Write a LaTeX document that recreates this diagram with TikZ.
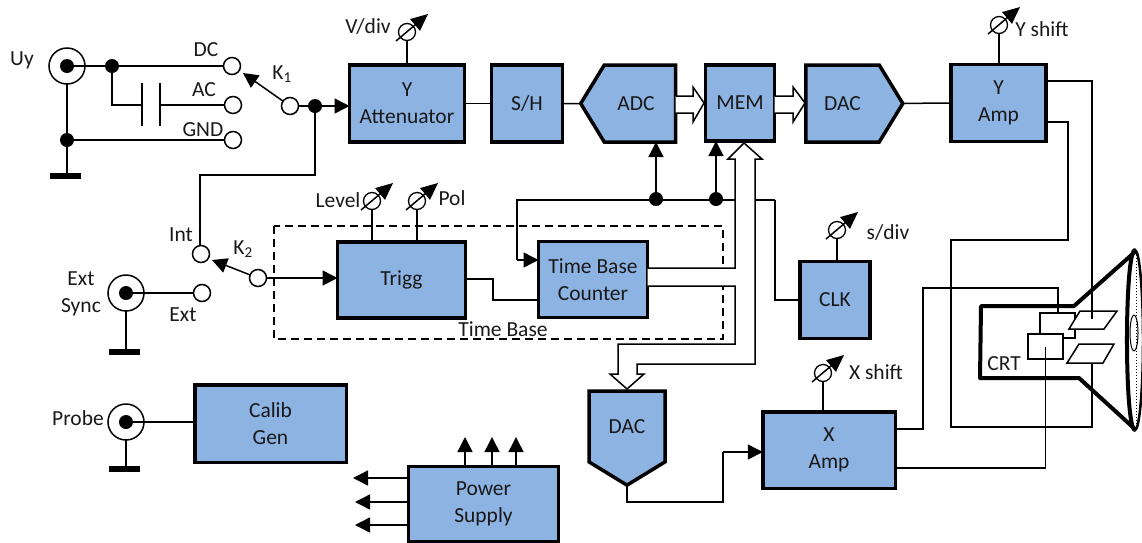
\documentclass[tikz,border=0pt]{standalone}
\usepackage{fontspec}
\setmainfont{Carlito}
\usetikzlibrary{arrows.meta,shapes.symbols}
\definecolor{blockblue}{RGB}{141,179,226}

\tikzset{
  caption/.style={font=\fontsize{21.5}{27}\selectfont,align=center,text=black!90},
  blockbox/.style={caption,draw,line width=3.5pt,fill=blockblue,outer sep=0pt,inner sep=0pt},
  signalbox/.style={blockbox,signal,signal pointer angle=117},
  terminal/.style={draw,circle,fill=white,line width=1.5pt,minimum size=17pt,inner sep=0pt,outer sep=0pt},
  junction/.style={circle,fill=black,minimum size=14pt,inner sep=0pt,outer sep=0pt},
  coax/.style={draw,circle,fill=white,line width=1.5pt,minimum size=36pt,inner sep=0pt,outer sep=0pt},
  earthbar/.style={fill=black,minimum width=31pt,minimum height=6pt,inner sep=0pt,outer sep=0pt},
  knob/.style={draw,circle,line width=1.3pt,minimum size=17pt,inner sep=0pt,outer sep=0pt},
  wire/.style={line width=1.5pt},
  feed/.style={wire,-{Triangle[length=15pt,width=15pt]}},
  crtline/.style={line width=4pt,line join=round},
  bus/.style={wire,fill=white},
}

\begin{document}
\begin{tikzpicture}[x=1pt,y=-1pt]

  \useasboundingbox (0,0) rectangle (1142,542);

  \draw (407,103.5) node[blockbox,minimum width=115pt,minimum height=77pt] (yatt) {Y\\Attenuator};
  \draw (527,103.5) node[blockbox,minimum width=71pt,minimum height=77pt] (sh) {S/H};
  \draw (640,103.5) node[signalbox,signal to=west,minimum width=95pt,minimum height=77pt] (adc) {ADC\hspace{8pt}};
  \draw (740,103) node[blockbox,minimum width=69pt,minimum height=76pt] (mem) {MEM};
  \draw (842.5,103.5) node[signalbox,signal to=east,minimum width=97pt,minimum height=77pt] (dacy) {DAC};
  \draw (998.5,103) node[blockbox,minimum width=95pt,minimum height=77pt] (yamp) {Y\\Amp};
  \draw (401.5,280) node[blockbox,minimum width=128pt,minimum height=76pt] (trigg) {Trigg};
  \draw (593,279.5) node[blockbox,minimum width=109pt,minimum height=76pt] (tbc) {Time Base\\Counter};
  \draw (835,300) node[blockbox,minimum width=70pt,minimum height=77pt] (clk) {CLK};
  \draw (270.5,423.5) node[blockbox,minimum width=151.5pt,minimum height=77.5pt] (calib) {Calib\\Gen};
  \draw (483.5,504) node[blockbox,minimum width=150pt,minimum height=75pt] (supply) {Power\\Supply};
  \draw (627,426.5) node[signalbox,signal to=south,minimum width=76pt,minimum height=82pt] (dacx) {DAC};
  \draw (829,450) node[blockbox,minimum width=132.5pt,minimum height=76.5pt] (xamp) {X\\Amp};

  \draw[dashed,dash pattern=on 8pt off 5pt,wire] (274,226) rectangle (723,339);

  \draw (67,66) node[coax] (uy) {};
  \draw (67,66) node[junction] (uycore) {};
  \draw (112,66) node[junction] (uydot) {};
  \draw (67,140) node[junction] (gnddot) {};
  \draw (65.5,176) node[earthbar] (uygnd) {};
  \draw (232,66) node[terminal] (dc) {};
  \draw (233,105) node[terminal] (ac) {};
  \draw (233,140) node[terminal] (gnd) {};
  \draw (290,106) node[terminal] (kone) {};
  \draw (315,106) node[junction] (ydot) {};
  \coordinate (kfrom) at (243,73);
  \coordinate (capa) at (142,105);
  \coordinate (capb) at (160,105);
  \coordinate (intbend) at (200,175);

  \draw[wire] (uycore.center) -- (dc);
  \draw[wire] (uydot) |- (capa);
  \draw[wire] (capb) -- (ac);
  \draw[wire] (capa |- 0,83) -- (capa |- 0,126);
  \draw[wire] (capb |- 0,83) -- (capb |- 0,126);
  \draw[wire] (gnddot) -- (gnd);
  \draw[wire] (uy) -- (uy |- uygnd);
  \draw[feed] (kone) -- (kfrom);
  \draw[wire] (kone) -- (ydot);
  \draw[feed] (ydot) -- (ydot -| yatt.west);

  \draw (201,254) node[terminal] (int) {};
  \draw (202,293) node[terminal] (ext) {};
  \draw (258,278) node[terminal] (ktwo) {};
  \draw (126,293) node[coax] (sync) {};
  \draw (126,293) node[junction] (synccore) {};
  \draw (124,352) node[earthbar] (syncgnd) {};
  \coordinate (ktip) at (212,260);

  \draw[wire] (ydot) |- (intbend) -- (intbend |- int.north);
  \draw[feed] (ktwo) -- (ktip);
  \draw[feed] (ktwo) -- (ktwo -| trigg.west);
  \draw[wire] (synccore.center) -- (ext);
  \draw[wire] (sync) -- (sync |- syncgnd);

  \draw (126,422) node[coax] (probe) {};
  \draw (126,422) node[junction] (probecore) {};
  \draw (124.5,469) node[earthbar] (probegnd) {};
  \draw[wire] (probecore.center) -- (probe -| calib.west);
  \draw[wire] (probe) -- (probe |- probegnd);

  \draw[wire] (yatt) -- (sh);
  \draw[wire] (sh) -- (adc);
  \draw[wire] (dacy) -- (yamp);

  \draw (656,199) node[junction] (adcdot) {};
  \draw (716,199) node[junction] (memdot) {};
  \coordinate (syncleft) at (517,200);
  \coordinate (syncright) at (775,200);
  \draw[wire] (syncright) -- (syncleft) -- (syncleft |- 0,260);
  \draw[feed] (syncleft |- 0,260) -- (tbc.west |- 0,260);
  \draw[feed] (adcdot) -- (adcdot |- adc.south);
  \draw[feed] (memdot) -- (memdot |- mem.south);
  \draw[wire] (syncright) |- (clk.west);

  \draw[wire] (trigg.east |- 0,279) -- (493,279) -- (493,300) -- (tbc.west |- 0,300);

  \draw[bus] (tbc.east |- 0,268) -- (735,268) -- (735,159) -- (728,159) -- (744,143)
    -- (762,159) -- (755,159) -- (755,364) -- (637,364) -- (637,374) -- (644,374)
    -- (627,389) -- (610,374) -- (618,374) -- (618,344) -- (735,344) -- (735,286)
    -- (tbc.east |- 0,286);
  \draw[bus] (adc.east |- 0,96) -- (693,96) -- (693,87) -- (704,103) -- (693,122)
    -- (693,113) -- (adc.east |- 0,113);
  \draw[bus] (mem.east |- 0,96) -- (793,96) -- (793,87) -- (805,103) -- (793,122)
    -- (793,113) -- (mem.east |- 0,113);

  \draw[wire] (dacx.south) -- (dacx.south |- 0,502) -- (723,502) -- (723,452);
  \draw[feed] (723,452) -- (xamp.west |- 0,452);

  \foreach \px in {465,492,516}
    \draw[feed] (\px,466.5) -- (\px,437);
  \foreach \py/\ex in {478/353,502/355,525/355}
    \draw[feed] (408.5,\py) -- (\ex,\py);

  \draw (407,32) node[knob] (vdiv) {};
  \draw (372,201) node[knob] (level) {};
  \draw (417,201) node[knob] (pol) {};
  \draw (999,25) node[knob] (yshift) {};
  \draw (837,230) node[knob] (sdiv) {};
  \draw (823,373) node[knob] (xshift) {};
  \foreach \k in {vdiv,level,pol,yshift,sdiv,xshift}
    \draw[wire,-{Triangle[length=17pt,width=15pt]}] ([shift={(-11,9)}]\k.center) -- ([shift={(21,-18)}]\k.center);
  \draw[wire] (vdiv) -- (vdiv |- yatt.north);
  \draw[wire] (level) -- (level |- trigg.north);
  \draw[wire] (pol) -- (pol |- trigg.north);
  \draw[wire] (yshift) -- (yshift |- yamp.north);
  \draw[wire] (sdiv) -- (sdiv |- clk.north);
  \draw[wire] (xshift) -- (xshift |- xamp.north);

  \draw[crtline] (1136,251) -- (1074,306) -- (981,306) -- (980,378) -- (1079,378) -- (1136,430);
  \draw[line width=2.5pt] (1135,340) ellipse [x radius=8,y radius=90];
  \draw[crtline] (1135,250) .. controls (1124.3,250) and (1124.3,430) .. (1135,430);
  \draw[line width=1pt,dotted] (1136,255) -- (1136,425);
  \draw[line width=1pt] (1134,333) ellipse [x radius=4,y radius=18];
  \draw[wire] (1040,313) rectangle (1075,338);
  \draw[wire,fill=white] (1069,329) -- (1080,311) -- (1117,311) -- (1104,329) -- cycle;
  \draw[wire,fill=white] (1067,363) -- (1079,344) -- (1114,344) -- (1103,363) -- cycle;
  \draw (1045.5,346.5) node[draw,wire,fill=white,minimum width=35pt,minimum height=25pt,inner sep=0pt,outer sep=0pt] (gun) {};
  \coordinate (platea) at (1092,319);
  \coordinate (plateb) at (1092,363);
  \coordinate (gridtop) at (1058,313);

  \draw[wire] (yamp.east |- 0,81) -| (platea);
  \draw[wire] (yamp.east |- 0,122) -- (1068,122) -- (1068,240) -- (951,240) -- (951,427) -| (plateb);
  \draw[wire] (xamp.east |- 0,429) -- (923,429) -- (923,288) -| (gridtop);
  \draw[wire] (xamp.east |- 0,468) -| (gun.center);

  \draw (22,60) node[caption] (uylabel) {Uy};
  \draw (206,50) node[caption] (dclabel) {DC};
  \draw (204,90) node[caption] (aclabel) {AC};
  \draw (203,130) node[caption] (gndlabel) {GND};
  \draw (282,74) node[caption] (konelabel) {K\textsubscript{1}};
  \draw (368,26) node[caption] (vdivlabel) {V/div};
  \draw (338,200) node[caption] (levellabel) {Level};
  \draw (452,198) node[caption] (pollabel) {Pol};
  \draw (181,235) node[caption] (intlabel) {Int};
  \draw (243,249) node[caption] (ktwolabel) {K\textsubscript{2}};
  \draw (81,294) node[caption] (synclabel) {Ext\\Sync};
  \draw (183,315) node[caption] (extlabel) {Ext};
  \draw (503,329) node[caption] (tblabel) {Time Base};
  \draw (1004,364) node[caption] (crtlabel) {CRT};
  \draw (888,232) node[caption] (sdivlabel) {s/div};
  \draw (876,372) node[caption] (xshiftlabel) {X shift};
  \draw (1042,29) node[caption] (yshiftlabel) {Y shift};
  \draw (78,418) node[caption] (probelabel) {Probe};

\end{tikzpicture}
\end{document}
